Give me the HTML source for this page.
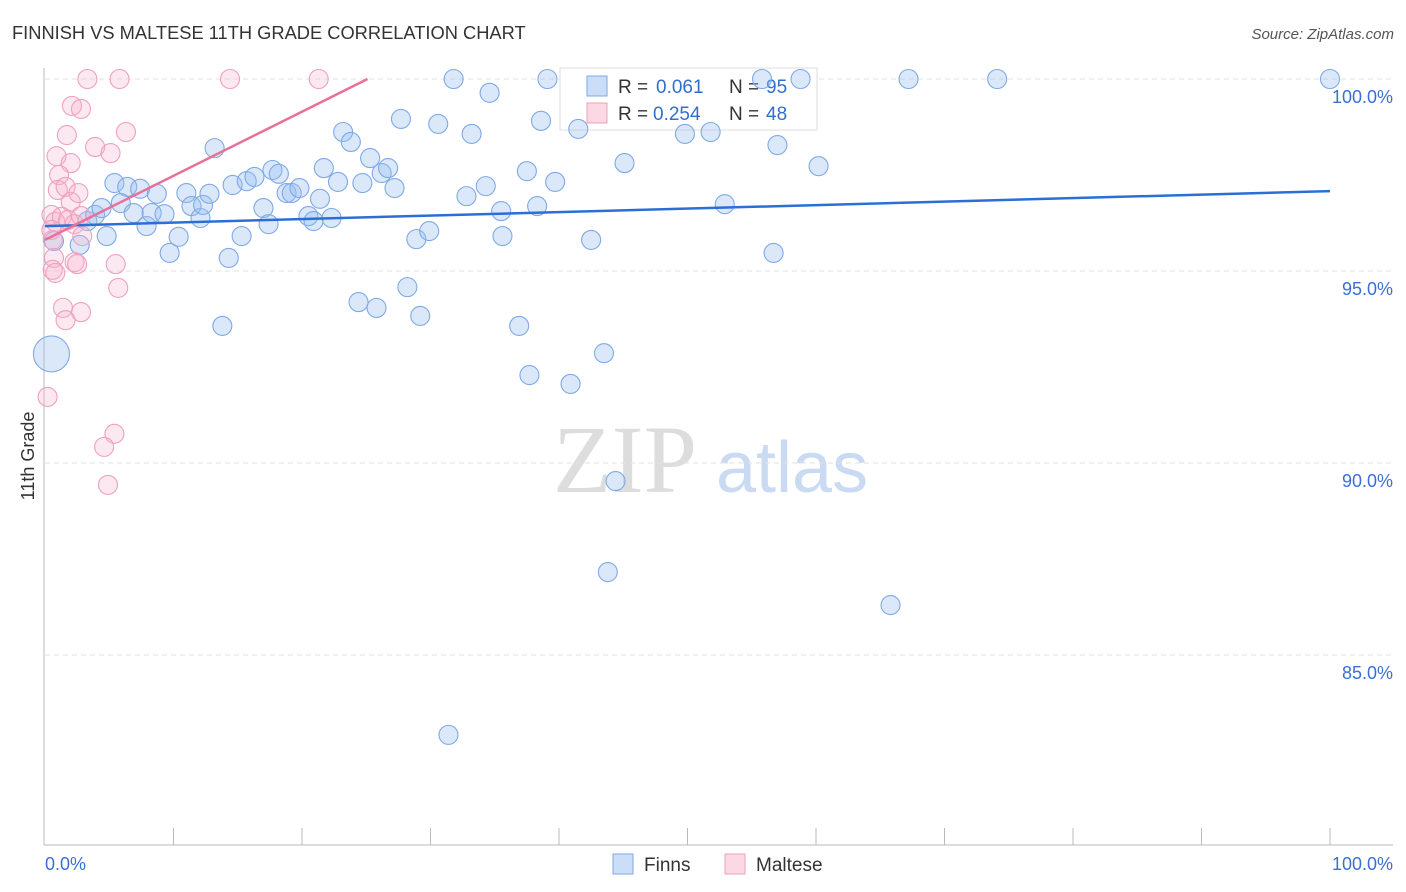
<!DOCTYPE html>
<html><head><meta charset="utf-8"><style>
body{margin:0;background:#fff;font-family:"Liberation Sans",sans-serif}
svg{display:block}
</style></head><body>
<svg id="c" width="1406" height="892">
<text x="12" y="39" font-size="18.3" fill="#333">FINNISH VS MALTESE 11TH GRADE CORRELATION CHART</text>
<text x="1394" y="39" font-size="15" fill="#555" font-style="italic" text-anchor="end">Source: ZipAtlas.com</text>
<text x="0" y="0" transform="translate(34,456) rotate(-90)" font-size="18" fill="#333" text-anchor="middle">11th Grade</text>
<g><text x="553" y="492" font-size="96" font-family="Liberation Serif" fill="#ddd">ZIP</text><text x="716" y="492" font-size="72" fill="#c9daf2">atlas</text></g>
<g id="grid"></g>
<g>
<rect x="560" y="68" width="257" height="62" fill="#fff" stroke="#ddd"/>
<rect x="587" y="76" width="20" height="20" fill="rgba(150,190,240,0.5)" stroke="#7fa9e6"/>
<rect x="587" y="103" width="20" height="20" fill="rgba(246,180,204,0.5)" stroke="#f0a0bc"/>
<text x="618" y="93" font-size="19" fill="#333">R =</text><text x="656" y="93" font-size="19" fill="#2f6fd0">0.061</text>
<text x="729" y="93" font-size="19" fill="#333">N =</text><text x="766" y="93" font-size="19" fill="#2f6fd0">95</text>
<text x="618" y="120" font-size="19" fill="#333">R =</text><text x="653" y="120" font-size="19" fill="#2f6fd0">0.254</text>
<text x="729" y="120" font-size="19" fill="#333">N =</text><text x="766" y="120" font-size="19" fill="#2f6fd0">48</text>
</g>
<g id="pts"></g><g id="trend"></g>
<g>
<rect x="613" y="854" width="20" height="20" fill="rgba(150,190,240,0.5)" stroke="#7fa9e6"/>
<text x="644" y="871" font-size="19" fill="#333">Finns</text>
<rect x="725" y="854" width="20" height="20" fill="rgba(246,180,204,0.5)" stroke="#f0a0bc"/>
<text x="756" y="871" font-size="19" fill="#333">Maltese</text>
</g>
</svg>
<script>
const yTicks=[100,95,90,85];
const xTickLabels=["0.0%","100.0%"];
const finnsX=[0.5,0.7,2.7,3.3,3.9,4.4,4.8,5.4,5.9,6.4,6.9,7.4,7.9,8.3,8.7,9.3,9.7,10.4,11.0,11.4,12.1,12.3,12.8,13.2,13.8,14.3,14.6,15.3,15.7,16.3,17.0,17.4,17.7,18.2,18.8,19.2,19.8,20.5,20.9,21.4,21.7,22.3,22.8,23.2,23.8,24.4,24.7,25.3,25.8,26.2,26.7,27.2,27.7,28.2,28.9,29.2,29.9,30.6,31.4,31.8,32.8,33.2,34.3,34.6,35.5,35.6,36.9,37.5,37.7,38.3,38.6,39.1,39.7,40.9,41.5,42.5,43.5,43.8,44.4,45.1,49.8,51.8,52.9,55.8,56.7,57.0,58.8,60.2,65.8,67.2,74.1,100];
const finnsY=[92.84,95.78,95.68,96.30,96.46,96.64,95.91,97.29,96.77,97.19,96.51,97.14,96.17,96.51,97.01,96.48,95.47,95.89,97.03,96.69,96.38,96.72,97.01,98.20,93.57,95.34,97.24,95.91,97.34,97.45,96.64,96.22,97.63,97.53,97.03,97.03,97.16,96.43,96.30,96.88,97.68,96.38,97.32,98.62,98.36,94.19,97.29,97.94,94.04,97.55,97.68,97.16,98.96,94.58,95.83,93.83,96.04,98.83,82.92,100,96.95,98.57,97.21,99.64,96.56,95.91,93.57,97.60,92.29,96.69,98.91,100,97.32,92.06,98.70,95.81,92.86,87.16,89.53,97.81,98.57,98.62,96.74,100,95.47,98.28,100,97.73,86.30,100,100,100];
const malteseX=[3.3,5.8,14.4,21.3,2.1,2.8,1.7,6.3,3.9,5.1,0.9,2.0,1.1,1.0,1.6,2.0,2.6,0.5,0.8,1.3,1.8,2.3,2.8,2.9,0.6,0.7,0.6,0.8,2.3,2.5,5.5,5.7,1.4,1.6,2.8,0.2,5.4,4.6,4.9,0.5];
const malteseY=[100,100,100,100,99.30,99.22,98.54,98.62,98.23,98.07,97.99,97.81,97.50,97.11,97.19,96.80,97.03,96.46,96.28,96.41,96.33,96.22,96.43,95.91,95.81,95.34,95.03,94.95,95.23,95.18,95.18,94.56,94.04,93.72,93.93,91.72,90.76,90.42,89.43,96.07];
const finnsTrend=[96.17,97.08];   // y at x=0 and x=100
const malteseTrend=[95.81,100,25.1]; // y at x=0, y at end, end x
const X=v=>45+v*12.85, Y=v=>79+(100-v)*38.4;
const NS="http://www.w3.org/2000/svg";
function mk(tag,at,parent){const e=document.createElementNS(NS,tag);for(const k in at)e.setAttribute(k,at[k]);parent.appendChild(e);return e;}
const grid=document.getElementById('grid');
let ax=mk('line',{x1:44,y1:68,x2:44,y2:845,stroke:'#bbb'},grid);


let bx=mk('line',{x1:44,y1:845,x2:1393,y2:845,stroke:'#bbb'},grid);


yTicks.forEach(t=>{
 const g=mk('line',{x1:45,y1:Y(t),x2:1393,y2:Y(t),stroke:'#e2e2e2','stroke-dasharray':'5,4'},grid);
 
 
 const l=mk('text',{x:1393,y:Y(t)+24,'font-size':18,fill:'#3b6fd4','text-anchor':'end'},grid);
 l.textContent=t.toFixed(1)+'%';
 
 
});
for(let i=1;i<=10;i++){
 const t=mk('line',{x1:X(i*10),y1:828,x2:X(i*10),y2:845,stroke:'#bbb'},grid);
 
 
}
[[0,'start',45],[1,'end',1393]].forEach(([i,a,x])=>{
 const l=mk('text',{x:x,y:870,'font-size':18,fill:'#3b6fd4','text-anchor':a},grid);
 l.textContent=xTickLabels[i];
 
 
});
const pts=document.getElementById('pts');
finnsX.forEach((x,i)=>{
 const c=mk('circle',{cx:X(x),cy:Y(finnsY[i]),r:i===0?18:9.5,fill:'rgba(150,190,240,0.35)',stroke:'#7fa9e6','stroke-width':1.1},pts);
 
 
});
malteseX.forEach((x,i)=>{
 const c=mk('circle',{cx:X(x),cy:Y(malteseY[i]),r:9.5,fill:'rgba(246,180,204,0.3)',stroke:'#f0a0bc','stroke-width':1.1},pts);
 
 
});
const tr=document.getElementById('trend');
const l1=mk('line',{x1:X(0),y1:Y(finnsTrend[0]),x2:X(100),y2:Y(finnsTrend[1]),stroke:'#2b6fd6','stroke-width':2.5},tr);


const l2=mk('line',{x1:X(0),y1:Y(malteseTrend[0]),x2:X(malteseTrend[2]),y2:Y(malteseTrend[1]),stroke:'#e8709a','stroke-width':2.5},tr);


</script>
</body></html>
